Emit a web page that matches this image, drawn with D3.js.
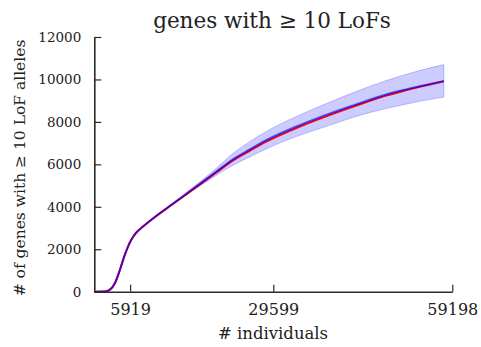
<!DOCTYPE html>
<html>
<head>
<meta charset="utf-8">
<script src="https://cdn.jsdelivr.net/npm/d3@7"></script>
<style>
  body { margin: 0; background: #fff; }
  svg { display: block; }
</style>
</head>
<body>
<div></div>
<script>
const width = 481;
const height = 347;
const serif = '"DejaVu Serif", "Liberation Serif", serif';

const individuals = [0, 2000, 2800, 3400, 4200, 5000, 5400, 5900, 6400, 7000, 8000, 10000, 13000,
    16000, 20000, 23000, 25700, 28500, 34000, 39000, 42850, 48400, 51100, 53800, 57800];
const meanBlue = [0, 20, 150, 400, 1000, 1700, 2000, 2330, 2580, 2800, 3060, 3520, 4150,
    4780, 5620, 6250, 6700, 7150, 7850, 8400, 8780, 9300, 9500, 9680, 9930];
const meanRed = [0, 20, 150, 400, 1000, 1700, 2000, 2330, 2580, 2800, 3055, 3510, 4130,
    4750, 5580, 6200, 6640, 7080, 7780, 8330, 8720, 9250, 9460, 9650, 9910];
const bandLow = [0, 20, 150, 400, 1000, 1700, 2000, 2330, 2580, 2800, 3058, 3515, 4130,
    4710, 5450, 5970, 6350, 6740, 7370, 7850, 8220, 8640, 8810, 8970, 9170];
const bandHigh = [0, 20, 150, 400, 1000, 1700, 2000, 2330, 2580, 2800, 3062, 3525, 4170,
    4850, 5770, 6530, 7070, 7560, 8330, 8940, 9380, 9960, 10200, 10420, 10700];

const xTicks = [5919, 29599, 59198];
const yTicks = [0, 2000, 4000, 6000, 8000, 10000, 12000];

const title = "genes with \u2265 10 LoFs";
const xLabel = "# individuals";
const yLabel = "# of genes with \u2265 10 LoF alleles";

const svg = d3.select('div')
    .append('svg')
    .attr('width', width)
    .attr('height', height);

const x = d3.scaleLinear().domain([0, 59198]).range([94.3, 452.3]);
const y = d3.scaleLinear().domain([0, 12000]).range([291.7, 37]);

const rows = individuals.map((n, i) => ({
    n: n, blue: meanBlue[i], red: meanRed[i], lo: bandLow[i], hi: bandHigh[i]
}));

// confidence band
const area = d3.area()
    .x(d => x(d.n))
    .y0(d => y(d.lo))
    .y1(d => y(d.hi))
    .curve(d3.curveMonotoneX);

svg.append('path')
    .datum(rows)
    .attr('d', area)
    .attr('fill', 'rgba(0,0,255,0.2)')
    .attr('stroke', 'rgba(0,0,255,0.22)')
    .attr('stroke-width', 1);

const lineOf = key => d3.line()
    .x(d => x(d.n))
    .y(d => y(d[key]))
    .curve(d3.curveMonotoneX);

svg.append('path')
    .datum(rows)
    .attr('d', lineOf('red'))
    .attr('fill', 'none')
    .attr('stroke', '#ff0000')
    .attr('stroke-width', 2);

svg.append('path')
    .datum(rows)
    .attr('d', lineOf('blue'))
    .attr('fill', 'none')
    .attr('stroke', 'rgba(0,0,255,0.65)')
    .attr('stroke-width', 2);

// axes, ticks point inward
const xAxis = svg.append('g')
    .attr('transform', `translate(0,${y(0)})`)
    .call(d3.axisBottom(x).tickValues(xTicks).tickFormat(d3.format('d'))
        .tickSizeInner(-7).tickSizeOuter(0).tickPadding(12));

const yAxis = svg.append('g')
    .attr('transform', `translate(${x(0)},0)`)
    .call(d3.axisLeft(y).tickValues(yTicks).tickFormat(d3.format('d'))
        .tickSizeInner(-7).tickSizeOuter(0).tickPadding(13));

[xAxis, yAxis].forEach(g => {
    g.attr('font-family', serif);
    g.select('.domain').attr('stroke', '#2a2a2a').attr('stroke-width', 1.6);
    g.selectAll('.tick line').attr('stroke', '#2a2a2a').attr('stroke-width', 1.2);
    g.selectAll('text').attr('fill', '#222');
});
xAxis.attr('font-size', 16);
yAxis.attr('font-size', 13.5);

svg.append('text')
    .attr('x', 272)
    .attr('y', 28)
    .attr('text-anchor', 'middle')
    .attr('font-family', serif)
    .attr('font-size', 21.5)
    .attr('fill', '#222')
    .text(title);

svg.append('text')
    .attr('x', 273)
    .attr('y', 339)
    .attr('text-anchor', 'middle')
    .attr('font-family', serif)
    .attr('font-size', 16.5)
    .attr('fill', '#222')
    .text(xLabel);

svg.append('text')
    .attr('transform', 'translate(25,168) rotate(-90)')
    .attr('text-anchor', 'middle')
    .attr('font-family', serif)
    .attr('font-size', 15.5)
    .attr('fill', '#222')
    .text(yLabel);
</script>
</body>
</html>
